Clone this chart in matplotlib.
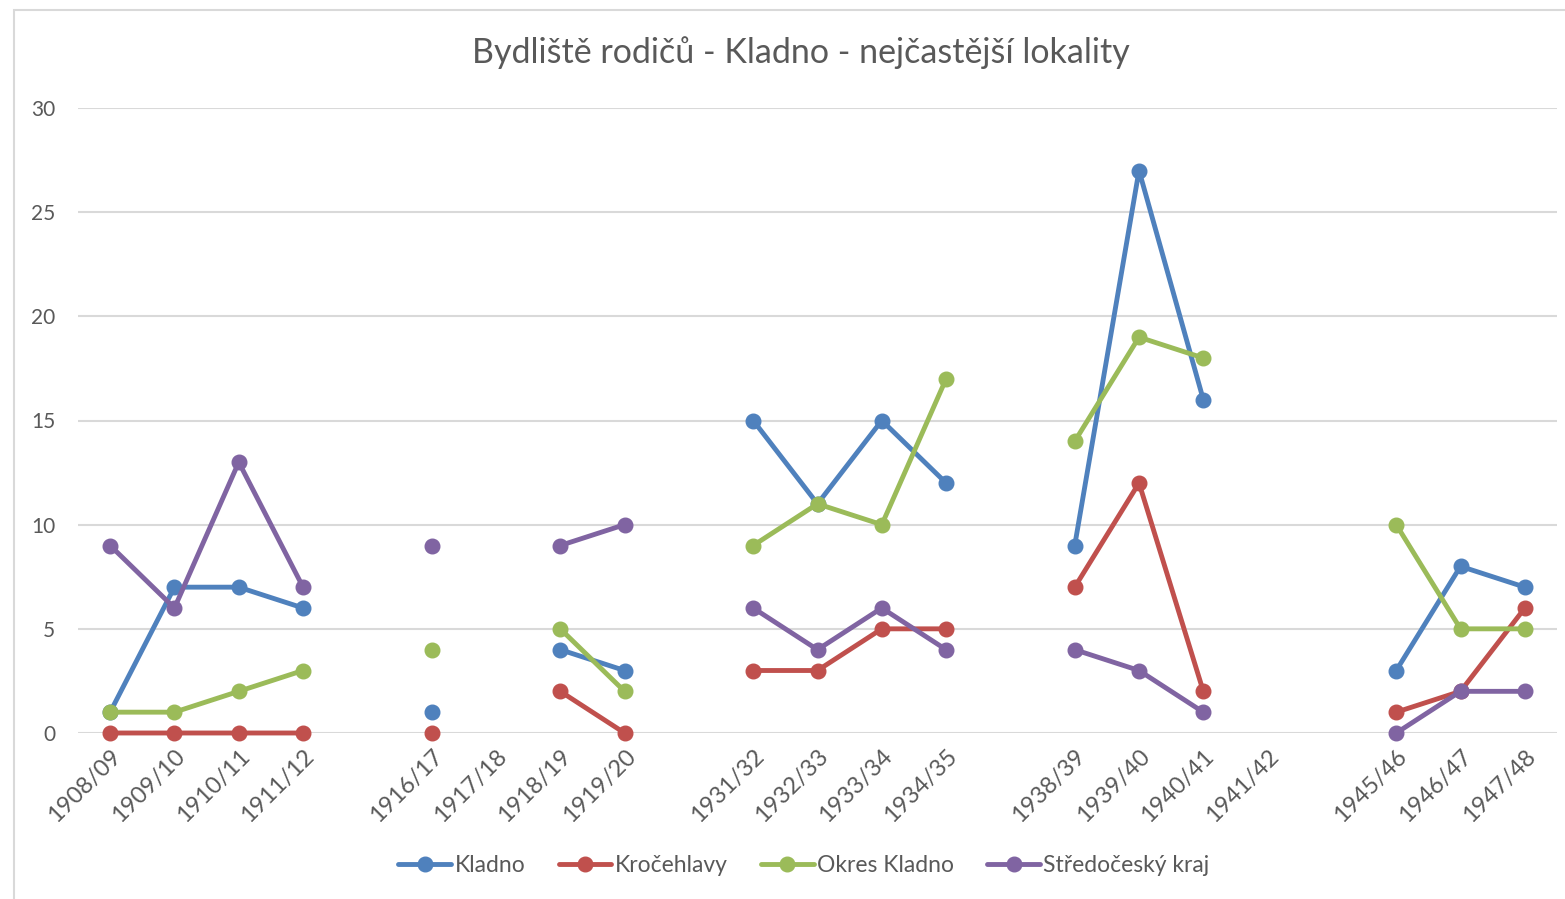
import numpy as np
import matplotlib
matplotlib.use("Agg")
import matplotlib.pyplot as plt
from matplotlib.patches import Rectangle

plt.rcParams['font.family'] = ['Lato', 'DejaVu Sans']

categories = ["1908/09", "1909/10", "1910/11", "1911/12", "",
              "1916/17", "1917/18", "1918/19", "1919/20", "",
              "1931/32", "1932/33", "1933/34", "1934/35", "",
              "1938/39", "1939/40", "1940/41", "1941/42", "",
              "1945/46", "1946/47", "1947/48"]
nan = np.nan
kladno = [1, 7, 7, 6, nan, 1, nan, 4, 3, nan, 15, 11, 15, 12, nan, 9, 27, 16, nan, nan, 3, 8, 7]
krocehlavy = [0, 0, 0, 0, nan, 0, nan, 2, 0, nan, 3, 3, 5, 5, nan, 7, 12, 2, nan, nan, 1, 2, 6]
okres = [1, 1, 2, 3, nan, 4, nan, 5, 2, nan, 9, 11, 10, 17, nan, 14, 19, 18, nan, nan, 10, 5, 5]
stredocesky = [9, 6, 13, 7, nan, 9, nan, 9, 10, nan, 6, 4, 6, 4, nan, 4, 3, 1, nan, nan, 0, 2, 2]

series = [("Kladno", kladno, "#4F81BD"),
          ("Kročehlavy", krocehlavy, "#C0504D"),
          ("Okres Kladno", okres, "#9BBB59"),
          ("Středočeský kraj", stredocesky, "#8064A2")]

W, H = 1565, 899
fig = plt.figure(figsize=(W / 100, H / 100), dpi=100)
ax = fig.add_axes([78 / W, 166 / H, (1557 - 78) / W, (733 - 108) / H])

x = np.arange(len(categories))
for name, vals, col in series:
    ax.plot(x, vals, color=col, lw=3.5, marker='o', markersize=10.5,
            solid_capstyle='round', label=name, zorder=3, clip_on=False)

ax.set_xlim(-0.5, len(categories) - 0.5)
ax.set_ylim(0, 30)
ax.set_yticks(range(0, 31, 5))
ax.set_xticks(x)
ax.set_xticklabels(categories, rotation=45, ha='right', va='top',
                   rotation_mode='anchor', fontsize=17, color='#595959')
ax.tick_params(axis='x', length=0, pad=9)
ax.tick_params(axis='y', length=0, pad=16.5, labelsize=15, labelcolor='#595959')
ax.grid(axis='y', color='#d9d9d9', lw=1.5, zorder=0)
for s in ax.spines.values():
    s.set_visible(False)

fig.text(801 / W, 1 - 53 / H, "Bydliště rodičů - Kladno - nejčastější lokality",
         ha='center', va='center', fontsize=24.5, color='#595959')

leg = fig.legend(loc='center', bbox_to_anchor=(804 / W, 1 - 866 / H), ncol=4,
                 frameon=False, fontsize=16.5, handlelength=2.3, handletextpad=0.15,
                 columnspacing=1.45, labelcolor='#595959')

fig.add_artist(Rectangle((14 / W, -0.01), 1.0, (H - 10) / H + 0.01,
                         transform=fig.transFigure, fill=False,
                         edgecolor='#d9d9d9', lw=1.5))

fig.savefig("out.png", dpi=100)
